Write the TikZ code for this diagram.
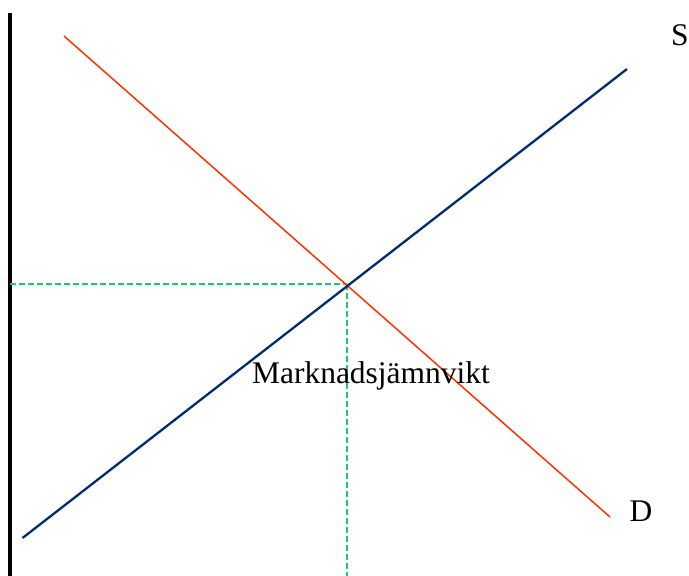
\documentclass[tikz,border=0pt]{standalone}
\usepackage{fontspec}
\setmainfont{Liberation Serif}
\usetikzlibrary{positioning}

\definecolor{demandred}{RGB}{255,51,0}
\definecolor{supplyblue}{RGB}{0,45,110}
\definecolor{guidegreen}{RGB}{30,200,110}

\begin{document}
\begin{tikzpicture}[
    x=1pt, y=-1pt,
    axis/.style={line width=3.5pt, black},
    demand/.style={line width=1.5pt, demandred},
    supply/.style={line width=2.3pt, supplyblue},
    guide/.style={line width=1.4pt, guidegreen, dash pattern=on 6pt off 3pt},
    curve label/.style={font=\fontsize{31.5}{36}\selectfont, inner sep=0pt}
]
    \useasboundingbox (0,0) rectangle (689,576);

    % axis
    \coordinate (axtop) at (10,13);
    \coordinate (axbot) at (10,576);
    \draw[axis] (axtop) -- (axbot);

    % curves
    \coordinate (d1) at (64,36);
    \coordinate (d2) at (610,517);
    \coordinate (s1) at (22.5,538);
    \coordinate (s2) at (627,69);
    \coordinate (eq) at (347,285);

    % equilibrium guides
    \coordinate (eqy) at (10,284);
    \coordinate (eqx) at (347,576);
    \draw[guide] (eqy) -- (eq |- eqy);
    \draw[guide] (eq |- eqy) -- (eqx);

    \draw[demand] (d1) -- (d2);
    \draw[supply] (s1) -- (s2);

    % labels
    \node[curve label] (slab) at (680,35) {S};
    \node[curve label] (dlab) at (641,511) {D};
    \node[curve label] (eqlab) at (371,376) {Marknadsjämnvikt};
\end{tikzpicture}
\end{document}
